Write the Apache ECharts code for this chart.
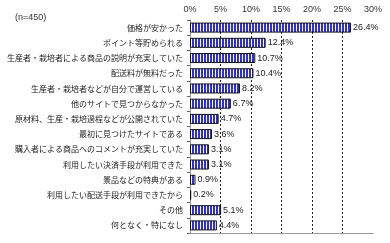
<!DOCTYPE html>
<html>
<head>
<meta charset="utf-8">
<script src="https://cdn.jsdelivr.net/npm/echarts@6/dist/echarts.min.js"></script>
<style>
html, body { margin: 0; padding: 0; background: #fff; }
#main { width: 390px; height: 243px; }
</style>
</head>
<body>
<div id="main"></div>
<script>
var categories = [
	'価格が安かった',
	'ポイント等貯められる',
	'生産者・栽培者による商品の説明が充実していた',
	'配送料が無料だった',
	'生産者・栽培者などが自分で運営している',
	'他のサイトで見つからなかった',
	'原材料、生産・栽培過程などが公開されていた',
	'最初に見つけたサイトである',
	'購入者による商品へのコメントが充実していた',
	'利用したい決済手段が利用できた',
	'景品などの特典がある',
	'利用したい配送手段が利用できたから',
	'その他',
	'何となく・特になし'
];
var values = [26.4, 12.4, 10.7, 10.4, 8.2, 6.7, 4.7, 3.6, 3.1, 3.1, 0.9, 0.2, 5.1, 4.4];
var xTicks = [0, 5, 10, 15, 20, 25, 30];
var note = '(n=450)';

var jpFont = '"Noto Sans CJK JP", sans-serif';
var numFont = '"Liberation Sans", Arial, sans-serif';

// 縦縞のパターン
var stripe = document.createElement('canvas');
stripe.width = 3;
stripe.height = 2;
var ctx = stripe.getContext('2d');
ctx.fillStyle = '#ffffff';
ctx.fillRect(0, 0, 3, 2);
ctx.fillStyle = '#2f2fd6';
ctx.fillRect(0, 0, 2, 2);

var myChart = echarts.init(document.getElementById('main'));
var option = {
	animation: false,
	backgroundColor: '#fff',
	title: {
		text: note,
		left: 10,
		top: 8,
		textStyle: { fontSize: 9, fontWeight: 'normal', color: '#333', fontFamily: numFont }
	},
	grid: { left: 190, right: 17, top: 20, bottom: 10 },
	xAxis: [{
		type: 'value',
		position: 'top',
		min: xTicks[0],
		max: xTicks[xTicks.length - 1],
		interval: 5,
		axisLine: { show: false },
		axisTick: { show: false },
		axisLabel: {
			fontSize: 9,
			color: '#333',
			fontFamily: numFont,
			margin: 6,
			formatter: '{value}%'
		},
		splitLine: {
			show: true,
			showMinLine: false,
			showMaxLine: false,
			lineStyle: { color: '#222', type: [2, 2], width: 1 }
		}
	}, {
		type: 'value',
		position: 'bottom',
		min: xTicks[0],
		max: xTicks[xTicks.length - 1],
		interval: 5,
		axisLine: { show: true, lineStyle: { color: '#999', width: 1 } },
		axisTick: { show: false },
		axisLabel: { show: false },
		splitLine: { show: false }
	}],
	yAxis: [{
		type: 'category',
		data: categories,
		inverse: true,
		axisLine: { show: true, lineStyle: { color: '#999', width: 1 } },
		axisTick: { show: true, length: 3, lineStyle: { color: '#666' } },
		axisLabel: { fontSize: 8, color: '#222', fontFamily: jpFont, margin: 7 }
	}, {
		type: 'category',
		position: 'right',
		data: categories,
		inverse: true,
		axisLine: { show: true, lineStyle: { color: '#999', width: 1 } },
		axisTick: { show: false },
		axisLabel: { show: false }
	}],
	series: [{
		type: 'bar',
		data: values,
		barWidth: 10,
		itemStyle: {
			color: { image: stripe, repeat: 'repeat' },
			borderColor: '#111',
			borderWidth: 1
		},
		label: {
			show: true,
			position: 'right',
			distance: 2,
			fontSize: 9,
			color: '#222',
			fontFamily: numFont,
			formatter: function(p) {
				return p.value.toFixed(1) + '%';
			}
		}
	}]
};
myChart.setOption(option);
</script>
</body>
</html>
